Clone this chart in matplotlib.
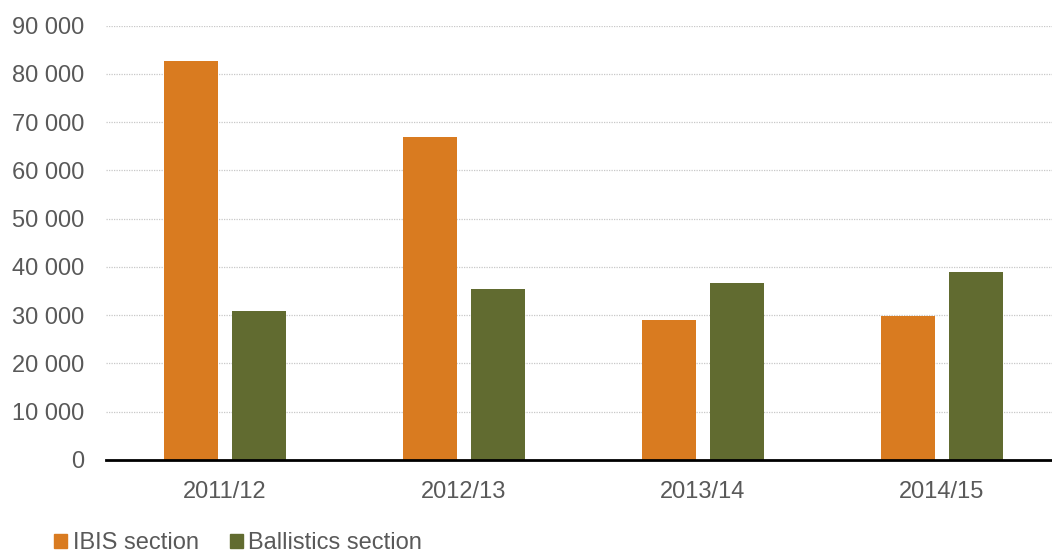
import matplotlib
matplotlib.use("Agg")
import matplotlib.pyplot as plt
import numpy as np
from matplotlib.patches import Patch
from matplotlib.ticker import FuncFormatter

categories = ["2011/12", "2012/13", "2013/14", "2014/15"]
ibis = [82600, 67000, 29000, 29800]
ballistics = [30900, 35400, 36700, 38900]
series_names = ["IBIS section", "Ballistics section"]
colors = ["#D97B20", "#616B30"]

plt.rcParams['font.family'] = ['Liberation Sans', 'DejaVu Sans']
W, H = 1052, 554
fig = plt.figure(figsize=(W/100, H/100), dpi=100)
left, right, top, bottom = 105.5, 1061.5, 25.5, 460
ax = fig.add_axes([left/W, (H-bottom)/H, (right-left)/W, (bottom-top)/H])

x = np.arange(len(categories))
bw = 0.226
off = 0.143
ax.bar(x - off, ibis, bw, color=colors[0], zorder=3)
ax.bar(x + off, ballistics, bw, color=colors[1], zorder=3)

ax.set_xlim(-0.5, len(categories) - 0.5)
ax.set_ylim(0, 90000)
ax.set_yticks(np.arange(0, 90001, 10000))
ax.yaxis.set_major_formatter(FuncFormatter(lambda v, p: f"{int(v):,}".replace(",", " ")))
ax.set_xticks(x)
ax.set_xticklabels(categories)
ax.tick_params(axis='both', length=0, labelsize=17, labelcolor="#595959")
ax.tick_params(axis='y', pad=15.5)
ax.tick_params(axis='x', pad=15)
ax.grid(axis='y', color="#c8c8c8", linestyle=(0, (1, 1)), linewidth=0.9, zorder=0)
for s in ["top", "right", "left"]:
    ax.spines[s].set_visible(False)
ax.spines["bottom"].set_color("black")
ax.spines["bottom"].set_linewidth(2)
ax.spines["bottom"].set_zorder(4)
ax.spines["bottom"].set_bounds(-0.5, len(categories) - 0.5)

handles = [Patch(color=c, label=n) for c, n in zip(colors, series_names)]
fig.legend(handles=handles, loc='center left', bbox_to_anchor=(54/W, (H-543)/H),
           ncol=2, frameon=False, fontsize=17, labelcolor="#595959",
           handlelength=0.55, handleheight=0.55, handletextpad=0.25,
           columnspacing=1.3, borderpad=0, borderaxespad=0)

fig.savefig("out.png", dpi=100)
